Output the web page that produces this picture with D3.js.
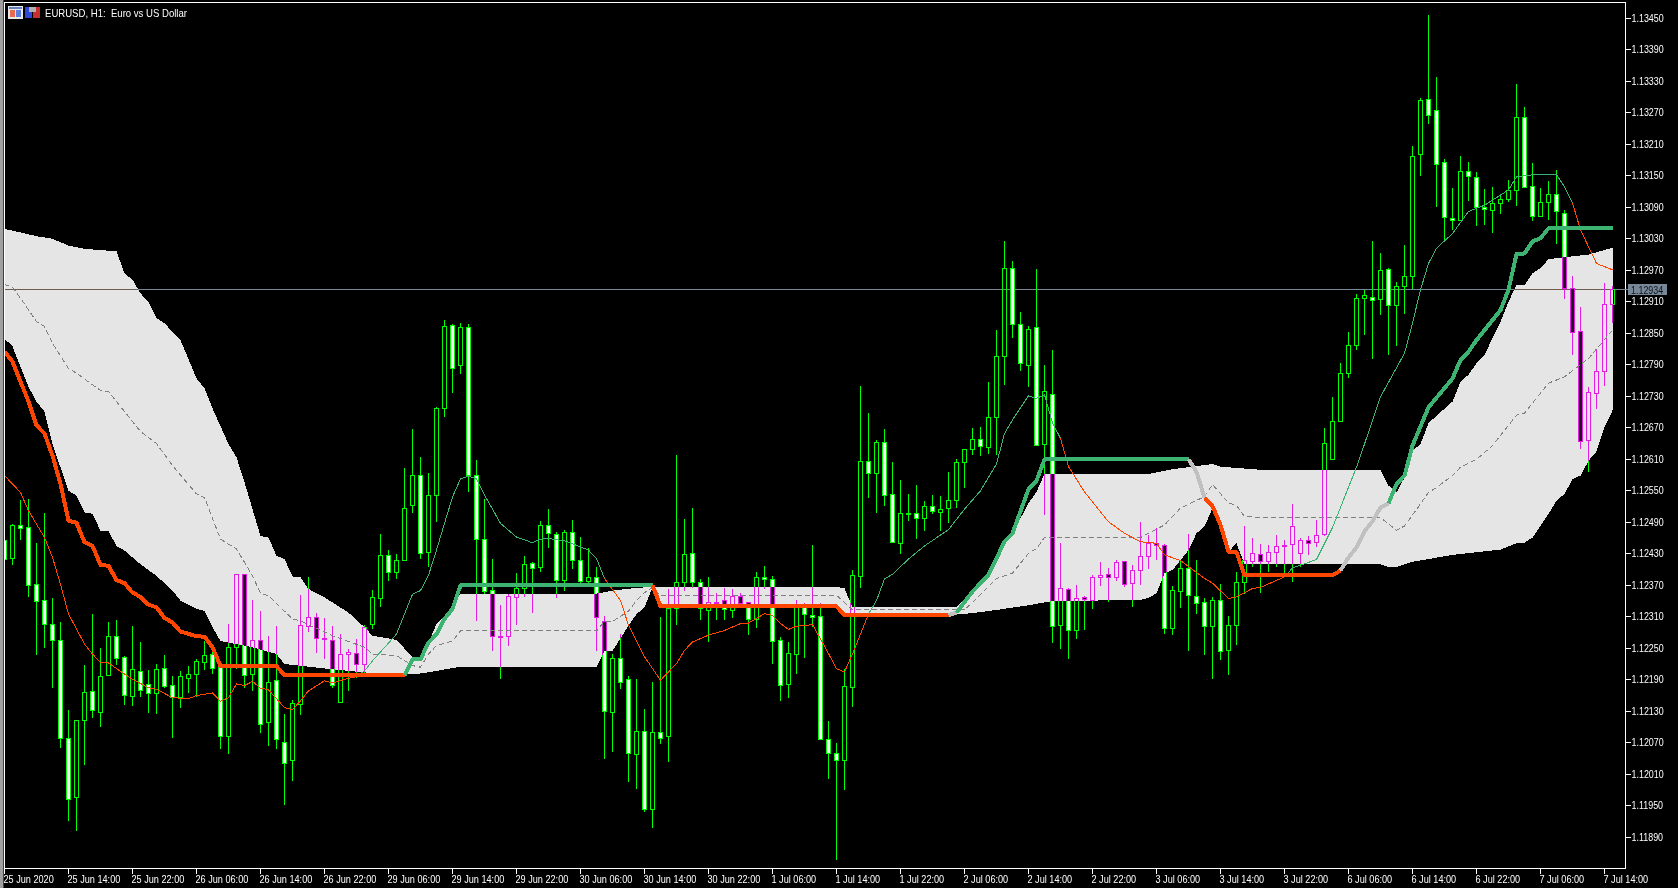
<!DOCTYPE html>
<html><head><meta charset="utf-8">
<style>
html,body{margin:0;padding:0;background:#000;overflow:hidden}
svg{display:block}
text{font-family:"Liberation Sans",Arial,sans-serif;font-size:11px;fill:#fff}
</style>
<script src="https://cdn.jsdelivr.net/npm/d3@7"></script>
</head><body><svg id="c" width="1678" height="888"></svg>
<script>
const title="EURUSD, H1:  Euro vs US Dollar";
const lastPrice=1.12934;
const timeLabels=["25 Jun 2020","25 Jun 14:00","25 Jun 22:00","26 Jun 06:00","26 Jun 14:00","26 Jun 22:00","29 Jun 06:00","29 Jun 14:00","29 Jun 22:00","30 Jun 06:00","30 Jun 14:00","30 Jun 22:00","1 Jul 06:00","1 Jul 14:00","1 Jul 22:00","2 Jul 06:00","2 Jul 14:00","2 Jul 22:00","3 Jul 06:00","3 Jul 14:00","3 Jul 22:00","6 Jul 06:00","6 Jul 14:00","6 Jul 22:00","7 Jul 06:00","7 Jul 14:00"];
const timeBars=[0,8,16,24,32,40,48,56,64,72,80,88,96,104,112,120,128,136,144,152,160,168,176,184,192,200];
const priceTicks=[1.13450,1.13390,1.13330,1.13270,1.13210,1.13150,1.13090,1.13030,1.12970,1.12910,1.12850,1.12790,1.12730,1.12670,1.12610,1.12550,1.12490,1.12430,1.12370,1.12310,1.12250,1.12190,1.12130,1.12070,1.12010,1.11950,1.11890];

const open=[1.12455,1.12421,1.12483,1.12480,1.12371,1.12341,1.12295,1.12264,1.12078,1.11966,
1.12113,1.12167,1.12128,1.12198,1.12273,1.12232,1.12158,1.12205,1.12181,1.12164,
1.12212,1.12179,1.12156,1.12193,1.12200,1.12223,1.12238,1.12214,1.12082,1.12252,
1.12391,1.12200,1.12264,1.12109,1.12189,1.12070,1.12036,1.12143,1.12291,1.12308,
1.12269,1.12264,1.12146,1.12238,1.12241,1.12219,1.12295,1.12345,1.12426,1.12394,
1.12417,1.12522,1.12579,1.12432,1.12541,1.12707,1.12865,1.12789,1.12861,1.12579,
1.12457,1.12361,1.12273,1.12273,1.12347,1.12364,1.12412,1.12403,1.12484,1.12467,
1.12379,1.12471,1.12417,1.12377,1.12385,1.12302,1.12128,1.12231,1.12191,1.12048,
1.12092,1.11942,1.12090,1.12082,1.12326,1.12375,1.12431,1.12375,1.12322,1.12337,
1.12341,1.12322,1.12348,1.12337,1.12305,1.12385,1.12381,1.12265,1.12181,1.12238,
1.12328,1.12313,1.12311,1.12076,1.12050,1.12037,1.12176,1.12387,1.12606,1.12583,
1.12642,1.12543,1.12449,1.12507,1.12507,1.12498,1.12520,1.12509,1.12517,1.12532,
1.12604,1.12629,1.12648,1.12633,1.12690,1.12806,1.12974,1.12867,1.12789,1.12861,
1.12639,1.12734,1.12294,1.12362,1.12284,1.12346,1.12341,1.12385,1.12391,1.12385,
1.12416,1.12374,1.12399,1.12425,1.12450,1.12446,1.12288,1.12359,1.12402,1.12348,
1.12338,1.12292,1.12341,1.12245,1.12294,1.12376,1.12416,1.12428,1.12415,1.12432,
1.12445,1.12447,1.12430,1.12455,1.12451,1.12466,1.12609,1.12682,1.12774,1.12827,
1.12916,1.12919,1.12914,1.12972,1.12903,1.12940,1.12959,1.13190,1.13296,1.13275,
1.13176,1.13069,1.13065,1.13159,1.13147,1.13090,1.13084,1.13098,1.13105,1.13122,
1.13261,1.13130,1.13072,1.13100,1.13115,1.13079,1.12935,1.12853,1.12646,1.12736,
1.12778,1.12905];
const close=[1.12420,1.12483,1.12478,1.12370,1.12339,1.12295,1.12265,1.12078,1.11962,1.12113,
1.12166,1.12132,1.12196,1.12273,1.12231,1.12160,1.12209,1.12170,1.12164,1.12209,
1.12177,1.12156,1.12196,1.12200,1.12225,1.12236,1.12212,1.12082,1.12252,1.12391,
1.12198,1.12264,1.12105,1.12185,1.12076,1.12031,1.12144,1.12293,1.12309,1.12269,
1.12267,1.12180,1.12238,1.12242,1.12219,1.12290,1.12347,1.12426,1.12395,1.12417,
1.12516,1.12579,1.12431,1.12541,1.12707,1.12863,1.12783,1.12861,1.12579,1.12457,
1.12358,1.12273,1.12271,1.12349,1.12364,1.12410,1.12402,1.12484,1.12469,1.12379,
1.12471,1.12417,1.12377,1.12385,1.12309,1.12130,1.12231,1.12185,1.12050,1.12092,
1.11942,1.12090,1.12078,1.12326,1.12375,1.12429,1.12375,1.12326,1.12337,1.12335,
1.12324,1.12349,1.12335,1.12305,1.12385,1.12381,1.12263,1.12179,1.12240,1.12328,
1.12315,1.12309,1.12076,1.12050,1.12036,1.12178,1.12388,1.12606,1.12583,1.12642,
1.12541,1.12452,1.12507,1.12506,1.12498,1.12520,1.12511,1.12515,1.12532,1.12604,
1.12629,1.12648,1.12635,1.12690,1.12806,1.12974,1.12867,1.12793,1.12858,1.12637,
1.12739,1.12292,1.12364,1.12284,1.12345,1.12342,1.12385,1.12389,1.12385,1.12414,
1.12372,1.12399,1.12425,1.12450,1.12446,1.12288,1.12360,1.12402,1.12351,1.12336,
1.12292,1.12341,1.12244,1.12294,1.12376,1.12418,1.12431,1.12415,1.12433,1.12444,
1.12443,1.12482,1.12455,1.12449,1.12465,1.12640,1.12682,1.12774,1.12827,1.12917,
1.12922,1.12913,1.12970,1.12903,1.12940,1.12959,1.13187,1.13294,1.13265,1.13172,
1.13071,1.13065,1.13159,1.13149,1.13090,1.13086,1.13098,1.13105,1.13122,1.13261,
1.13128,1.13072,1.13100,1.13115,1.13082,1.12935,1.12852,1.12644,1.12737,1.12778,
1.12905,1.12934];
const high=[1.12458,1.12487,1.12532,1.12534,1.12450,1.12508,1.12346,1.12300,1.12132,1.12113,
1.12218,1.12315,1.12250,1.12300,1.12304,1.12235,1.12292,1.12262,1.12208,1.12221,
1.12237,1.12197,1.12206,1.12216,1.12229,1.12264,1.12245,1.12226,1.12296,1.12391,
1.12391,1.12342,1.12321,1.12273,1.12292,1.12125,1.12151,1.12351,1.12386,1.12317,
1.12308,1.12292,1.12277,1.12248,1.12268,1.12294,1.12361,1.12468,1.12437,1.12429,
1.12593,1.12668,1.12614,1.12583,1.12709,1.12876,1.12868,1.12869,1.12868,1.12609,
1.12534,1.12421,1.12332,1.12353,1.12393,1.12425,1.12414,1.12492,1.12516,1.12471,
1.12476,1.12494,1.12462,1.12442,1.12404,1.12311,1.12239,1.12277,1.12198,1.12191,
1.12134,1.12186,1.12309,1.12363,1.12618,1.12496,1.12517,1.12382,1.12385,1.12356,
1.12365,1.12363,1.12356,1.12337,1.12395,1.12407,1.12388,1.12271,1.12262,1.12342,
1.12337,1.12447,1.12337,1.12111,1.12069,1.12210,1.12399,1.12750,1.12698,1.12647,
1.12667,1.12605,1.12571,1.12544,1.12561,1.12531,1.12542,1.12540,1.12586,1.12611,
1.12629,1.12670,1.12671,1.12757,1.12856,1.13026,1.12988,1.12891,1.12864,1.12973,
1.12790,1.12818,1.12451,1.12364,1.12371,1.12350,1.12390,1.12414,1.12403,1.12419,
1.12416,1.12408,1.12491,1.12466,1.12479,1.12448,1.12368,1.12419,1.12467,1.12418,
1.12346,1.12347,1.12372,1.12312,1.12395,1.12483,1.12461,1.12448,1.12447,1.12466,
1.12456,1.12525,1.12461,1.12464,1.12494,1.12669,1.12728,1.12793,1.12853,1.12925,
1.12933,1.13026,1.13003,1.12974,1.12948,1.13018,1.13207,1.13298,1.13456,1.13338,
1.13182,1.13127,1.13188,1.13176,1.13157,1.13124,1.13129,1.13113,1.13142,1.13325,
1.13281,1.13174,1.13126,1.13140,1.13161,1.13085,1.12959,1.12900,1.12748,1.12820,
1.12945,1.12940];
const low=[1.12417,1.12409,1.12456,1.12348,1.12238,1.12250,1.12174,1.12061,1.11921,1.11902,
1.12028,1.12117,1.12101,1.12198,1.12219,1.12142,1.12141,1.12158,1.12127,1.12125,
1.12174,1.12080,1.12136,1.12165,1.12158,1.12208,1.12201,1.12058,1.12048,1.12210,
1.12174,1.12169,1.12088,1.12064,1.12058,1.11952,1.11998,1.12123,1.12281,1.12241,
1.12229,1.12174,1.12146,1.12169,1.12194,1.12201,1.12287,1.12329,1.12378,1.12382,
1.12417,1.12508,1.12420,1.12404,1.12491,1.12691,1.12737,1.12772,1.12548,1.12302,
1.12354,1.12245,1.12192,1.12255,1.12294,1.12348,1.12318,1.12395,1.12442,1.12346,
1.12360,1.12401,1.12372,1.12372,1.12245,1.12040,1.12053,1.12172,1.11996,1.11982,
1.11939,1.11908,1.12068,1.12034,1.12294,1.12360,1.12364,1.12304,1.12262,1.12304,
1.12304,1.12307,1.12328,1.12276,1.12288,1.12363,1.12221,1.12150,1.12156,1.12201,
1.12231,1.12290,1.12076,1.12001,1.11847,1.11981,1.12139,1.12364,1.12537,1.12508,
1.12522,1.12450,1.12430,1.12493,1.12459,1.12473,1.12505,1.12474,1.12489,1.12518,
1.12556,1.12618,1.12617,1.12621,1.12618,1.12752,1.12842,1.12778,1.12748,1.12637,
1.12503,1.12261,1.12249,1.12230,1.12268,1.12285,1.12325,1.12369,1.12339,1.12379,
1.12367,1.12329,1.12371,1.12402,1.12418,1.12278,1.12275,1.12326,1.12244,1.12316,
1.12237,1.12192,1.12228,1.12200,1.12256,1.12353,1.12404,1.12356,1.12395,1.12405,
1.12390,1.12377,1.12405,1.12428,1.12443,1.12464,1.12609,1.12682,1.12765,1.12819,
1.12847,1.12801,1.12885,1.12809,1.12826,1.12887,1.12934,1.13150,1.13249,1.13091,
1.13025,1.13046,1.13063,1.13102,1.13054,1.13056,1.13042,1.13077,1.13100,1.13093,
1.13126,1.13063,1.13072,1.13066,1.13021,1.12916,1.12809,1.12630,1.12586,1.12705,
1.12750,1.12870];

const cloudTopBars=[0,4,6,8,10,14,15,16,17,18,19,20,22,24,25,26,28,29,30,31,32,33,34,35,36,37,38,40,43,45,46,49,51,52,53,54,56,57,74,76,79,81,104,105,106,119,121,123,125,126,128,129,130,143,146,151,152,157,172,173,174,175,176,177,178,181,182,183,184,185,187,188,189,190,191,192,193,195,198,201];
const cloudTopPrices=[1.13049,1.13035,1.13030,1.13017,1.13011,1.13006,1.12964,1.12952,1.12926,1.12910,1.12879,1.12869,1.12837,1.12764,1.12745,1.12707,1.12639,1.12614,1.12566,1.12515,1.12464,1.12461,1.12426,1.12420,1.12387,1.12385,1.12363,1.12347,1.12318,1.12290,1.12274,1.12266,1.12233,1.12226,1.12261,1.12296,1.12328,1.12354,1.12354,1.12360,1.12365,1.12367,1.12367,1.12364,1.12328,1.12328,1.12361,1.12390,1.12447,1.12469,1.12526,1.12548,1.12582,1.12582,1.12591,1.12601,1.12596,1.12590,1.12589,1.12560,1.12547,1.12575,1.12626,1.12639,1.12679,1.12720,1.12758,1.12771,1.12793,1.12809,1.12872,1.12910,1.12942,1.12942,1.12964,1.12974,1.12991,1.12995,1.13000,1.13013];
const cloudBottomBars=[0,1,2,3,4,5,6,8,9,10,11,12,13,14,15,17,19,21,22,24,25,26,27,31,34,35,41,45,50,52,54,57,74,75,76,78,79,80,81,82,104,105,118,121,124,128,131,142,143,144,145,146,148,149,150,151,152,153,154,155,172,173,174,176,178,181,184,187,189,190,191,193,194,195,196,197,198,199,200,201];
const cloudBottomPrices=[1.12840,1.12825,1.12786,1.12748,1.12720,1.12701,1.12639,1.12550,1.12541,1.12509,1.12506,1.12474,1.12473,1.12445,1.12436,1.12410,1.12388,1.12360,1.12341,1.12325,1.12321,1.12290,1.12264,1.12252,1.12239,1.12220,1.12210,1.12204,1.12201,1.12202,1.12207,1.12215,1.12215,1.12244,1.12245,1.12293,1.12315,1.12328,1.12366,1.12330,1.12330,1.12313,1.12313,1.12317,1.12323,1.12332,1.12340,1.12342,1.12346,1.12355,1.12393,1.12399,1.12437,1.12469,1.12482,1.12517,1.12479,1.12434,1.12450,1.12410,1.12410,1.12405,1.12405,1.12415,1.12420,1.12428,1.12433,1.12438,1.12450,1.12451,1.12461,1.12506,1.12531,1.12544,1.12572,1.12579,1.12607,1.12625,1.12672,1.12703];
const midBars=[0,1,2,4,5,6,8,9,12,13,15,17,19,21,24,25,27,29,31,32,33,36,37,41,45,46,49,51,52,53,54,56,57,74,75,76,78,79,80,81,82,104,106,120,122,124,126,128,129,130,142,145,147,150,151,153,154,155,157,172,174,175,177,178,179,181,182,184,186,189,190,193,195,198,201];
const midPrices=[1.12943,1.12938,1.12917,1.12872,1.12863,1.12831,1.12783,1.12774,1.12741,1.12739,1.12701,1.12663,1.12640,1.12598,1.12544,1.12537,1.12458,1.12439,1.12388,1.12355,1.12350,1.12306,1.12302,1.12274,1.12252,1.12239,1.12236,1.12217,1.12214,1.12239,1.12255,1.12264,1.12283,1.12283,1.12301,1.12301,1.12321,1.12341,1.12356,1.12366,1.12351,1.12351,1.12323,1.12323,1.12352,1.12383,1.12393,1.12431,1.12440,1.12461,1.12461,1.12485,1.12517,1.12539,1.12562,1.12527,1.12522,1.12501,1.12499,1.12499,1.12475,1.12483,1.12525,1.12547,1.12556,1.12579,1.12595,1.12610,1.12636,1.12694,1.12698,1.12755,1.12767,1.12802,1.12856];

const kijunBars=[0,1,3,4,5,6,7,8,9,10,11,12,13,14,15,16,17,18,19,20,21,22,24,25,26,27,34,35,50,51,52,53,54,55,56,57,81,82,104,105,118,119,121,123,125,126,128,129,130,148,149,150,151,152,153,154,155,166,167,168,169,170,171,172,173,174,175,176,178,181,182,183,184,185,187,188,189,190,191,192,193,201];
const kijunPrices=[1.12815,1.12796,1.12720,1.12675,1.12659,1.12617,1.12563,1.12493,1.12489,1.12452,1.12445,1.12409,1.12407,1.12380,1.12374,1.12356,1.12348,1.12333,1.12328,1.12308,1.12299,1.12282,1.12273,1.12272,1.12252,1.12216,1.12216,1.12199,1.12199,1.12229,1.12229,1.12261,1.12277,1.12306,1.12325,1.12370,1.12370,1.12330,1.12330,1.12313,1.12313,1.12318,1.12358,1.12390,1.12453,1.12469,1.12553,1.12569,1.12610,1.12610,1.12586,1.12537,1.12521,1.12485,1.12434,1.12433,1.12389,1.12389,1.12398,1.12423,1.12442,1.12473,1.12492,1.12518,1.12526,1.12563,1.12579,1.12636,1.12709,1.12764,1.12799,1.12815,1.12837,1.12856,1.12894,1.12933,1.13001,1.13002,1.13025,1.13031,1.13050,1.13050];
const kijunBreaks=[50,81,118,119,148,150,167,173];
const kijunStates=["down","up","down","flat","up","flat","down","flat","up"];

const tenkanBars=[0,2,3,5,6,7,8,9,10,11,12,13,15,16,18,19,21,23,24,26,27,28,29,30,31,32,33,35,36,37,38,40,41,43,44,45,46,49,51,52,53,54,55,56,57,58,59,60,62,63,64,66,67,68,70,71,73,74,75,77,78,80,82,84,85,86,88,90,92,93,95,96,97,98,99,101,102,103,104,105,106,108,109,110,111,113,115,118,120,122,124,125,126,128,129,130,131,132,133,135,138,140,142,144,145,147,150,151,153,154,156,157,160,161,164,166,169,170,172,175,176,177,178,179,181,183,185,188,189,191,194,195,196,197,199,201];
const tenkanPrices=[1.12579,1.12547,1.12512,1.12461,1.12423,1.12372,1.12315,1.12287,1.12258,1.12239,1.12223,1.12222,1.12201,1.12191,1.12175,1.12172,1.12156,1.12154,1.12160,1.12165,1.12149,1.12156,1.12182,1.12179,1.12187,1.12174,1.12171,1.12137,1.12133,1.12150,1.12169,1.12188,1.12184,1.12193,1.12196,1.12207,1.12226,1.12277,1.12353,1.12360,1.12389,1.12437,1.12488,1.12538,1.12573,1.12578,1.12573,1.12542,1.12488,1.12475,1.12462,1.12451,1.12458,1.12459,1.12455,1.12449,1.12437,1.12421,1.12383,1.12341,1.12294,1.12234,1.12189,1.12221,1.12246,1.12262,1.12275,1.12284,1.12297,1.12298,1.12316,1.12313,1.12297,1.12286,1.12292,1.12295,1.12268,1.12240,1.12211,1.12205,1.12239,1.12315,1.12341,1.12382,1.12391,1.12420,1.12445,1.12476,1.12515,1.12550,1.12601,1.12659,1.12685,1.12731,1.12726,1.12733,1.12679,1.12650,1.12596,1.12548,1.12491,1.12469,1.12453,1.12450,1.12428,1.12417,1.12383,1.12374,1.12345,1.12348,1.12364,1.12366,1.12386,1.12403,1.12419,1.12480,1.12595,1.12639,1.12729,1.12812,1.12869,1.12933,1.12983,1.13012,1.13040,1.13082,1.13094,1.13123,1.13148,1.13152,1.13152,1.13129,1.13098,1.13047,1.12983,1.12971];
const tenkanBreaks=[44,75,108,132,160,196];
const tenkanStates=["down","up","down","up","down","up","down"];

const stateColor={down:"#ff4500",up:"#3cb371",flat:"#c0c0c0"};
const W=1678,H=888,plotL=5,plotR=1625,plotT=3,plotB=868;
const svg=d3.select("#c");
const x=d3.scaleLinear().domain([0,200]).range([4.5,1604.5]);
const y=d3.scaleLinear().domain([1.1345,1.1189]).range([18.3,837.3]);

svg.append("rect").attr("width",W).attr("height",H).attr("fill","#000");
const defs=svg.append("defs");
defs.append("clipPath").attr("id","plot").append("rect").attr("x",plotL).attr("y",plotT).attr("width",plotR-plotL).attr("height",plotB-plotT);

const line=d3.line().x(d=>x(d[0])).y(d=>y(d[1]));
const zip=(a,b)=>a.map((v,i)=>[v,b[i]]);
const narrow=(sel,r)=>sel.each(function(){this.setAttribute("textLength",this.getComputedTextLength()*r);this.setAttribute("lengthAdjust","spacingAndGlyphs");});

// cloud
svg.append("path").attr("clip-path","url(#plot)")
  .attr("d",line(zip(cloudTopBars,cloudTopPrices).concat(zip(cloudBottomBars,cloudBottomPrices).reverse()))+"Z")
  .attr("fill","#e5e5e5").attr("shape-rendering","crispEdges");

// candles, xor-style over the cloud
const cg=svg.append("g").attr("clip-path","url(#plot)").style("mix-blend-mode","difference").attr("shape-rendering","crispEdges");
cg.append("line").attr("x1",plotL).attr("x2",plotR).attr("y1",Math.floor(y(lastPrice))+.5).attr("y2",Math.floor(y(lastPrice))+.5).attr("stroke","#778899");
const bars=d3.range(open.length);
const bar=cg.selectAll("g.b").data(bars).join("g").attr("class","b");
bar.append("path").attr("fill","none").attr("stroke","#00ff00").attr("d",k=>{
  const t=Math.max(open[k],close[k]),b=Math.min(open[k],close[k]);
  const X=x(k);
  return `M${X},${y(high[k])}V${y(t)}M${X},${y(b)}V${y(low[k])}`;
});
bar.append("rect").attr("x",k=>x(k)-2).attr("width",4)
  .attr("y",k=>Math.floor(y(Math.max(open[k],close[k])))+.5)
  .attr("height",k=>Math.max(1,Math.floor(y(Math.min(open[k],close[k])))-Math.floor(y(Math.max(open[k],close[k])))))
  .attr("stroke","#00ff00")
  .attr("fill",k=>open[k]>close[k]?"#fff":"none");

// lines
const lines=svg.append("g").attr("clip-path","url(#plot)").attr("fill","none").attr("shape-rendering","crispEdges");
lines.append("path").attr("d",line(zip(midBars,midPrices))).attr("stroke","#808080").attr("stroke-width",1).attr("stroke-dasharray","5 3");
function segments(bs,ps,breaks,states,width){
  let start=0;
  const pts=zip(bs,ps);
  states.forEach((s,i)=>{
    const endBar=i<breaks.length?breaks[i]:Infinity;
    let end=pts.findIndex(p=>p[0]>=endBar); if(end<0) end=pts.length-1;
    lines.append("path").attr("d",line(pts.slice(start,end+1))).attr("stroke",stateColor[s]).attr("stroke-width",width).attr("stroke-linejoin","round");
    start=end;
  });
}
segments(tenkanBars,tenkanPrices,tenkanBreaks,tenkanStates,1);
segments(kijunBars,kijunPrices,kijunBreaks,kijunStates,4);

// axes
const axisFont="11px 'Liberation Sans'";
const xAxis=d3.axisBottom(x).offset(0).tickValues(timeBars).tickFormat((d,i)=>timeLabels[i]).tickSize(5).tickPadding(2);
const gx=svg.append("g").attr("transform","translate(0,868.5)").attr("shape-rendering","crispEdges").call(xAxis);
gx.select(".domain").remove();
gx.selectAll("line").attr("stroke","#fff");
gx.selectAll("text").attr("text-anchor","start").attr("dx",-1).attr("fill","#fff").style("font",axisFont).call(narrow,.83);
const yAxis=d3.axisRight(y).offset(0).tickValues(priceTicks).tickFormat(d3.format(".5f")).tickSize(5).tickPadding(1);
const gy=svg.append("g").attr("transform","translate(1625.5,0)").attr("shape-rendering","crispEdges").call(yAxis);
gy.select(".domain").remove();
gy.selectAll("line").attr("stroke","#fff");
gy.selectAll("text").attr("fill","#fff").style("font",axisFont).call(narrow,.81);

// frame
const frame=svg.append("g").attr("shape-rendering","crispEdges");
frame.append("rect").attr("x",0).attr("y",0).attr("width",3).attr("height",H).attr("fill","#a0a0a0");
frame.append("rect").attr("x",3).attr("y",0).attr("width",1).attr("height",H).attr("fill","#404040");
frame.append("rect").attr("x",4).attr("y",2).attr("width",1).attr("height",plotB-2).attr("fill","#fff");
frame.append("rect").attr("x",4).attr("y",2).attr("width",plotR-3).attr("height",1).attr("fill","#fff");
frame.append("rect").attr("x",4).attr("y",868).attr("width",plotR-3).attr("height",1).attr("fill","#fff");
frame.append("rect").attr("x",plotR).attr("y",2).attr("width",1).attr("height",867).attr("fill","#fff");

// last price tag
svg.append("rect").attr("x",1625).attr("y",289).attr("width",3).attr("height",1).attr("fill","#778899");
svg.append("rect").attr("x",1628).attr("y",284).attr("width",39).attr("height",11).attr("fill","#778899");
svg.append("text").attr("x",1631).attr("y",293.5).text(d3.format(".5f")(lastPrice)).style("fill","#10141a").call(narrow,.81);

// title + icons
svg.append("text").attr("x",45).attr("y",16.5).text(title).style("white-space","pre").attr("textLength",142).attr("lengthAdjust","spacingAndGlyphs");
const icon=svg.append("g").attr("shape-rendering","crispEdges");
icon.append("rect").attr("x",8).attr("y",6).attr("width",15).attr("height",13).attr("fill","#e8e8e8");
icon.append("rect").attr("x",9).attr("y",7).attr("width",13).attr("height",2).attr("fill","#6080c0");
icon.append("rect").attr("x",10).attr("y",10).attr("width",5).attr("height",7).attr("fill","#e86a50");
icon.append("rect").attr("x",16).attr("y",10).attr("width",5).attr("height",7).attr("fill","#5a7fdc");
icon.append("rect").attr("x",25).attr("y",7).attr("width",7).attr("height",11).attr("fill","#3048d8");
icon.append("rect").attr("x",33).attr("y",7).attr("width",7).attr("height",11).attr("fill","#c83030");
icon.append("rect").attr("x",29).attr("y",7).attr("width",7).attr("height",5).attr("fill","#b0b0b0");
</script></body></html>
